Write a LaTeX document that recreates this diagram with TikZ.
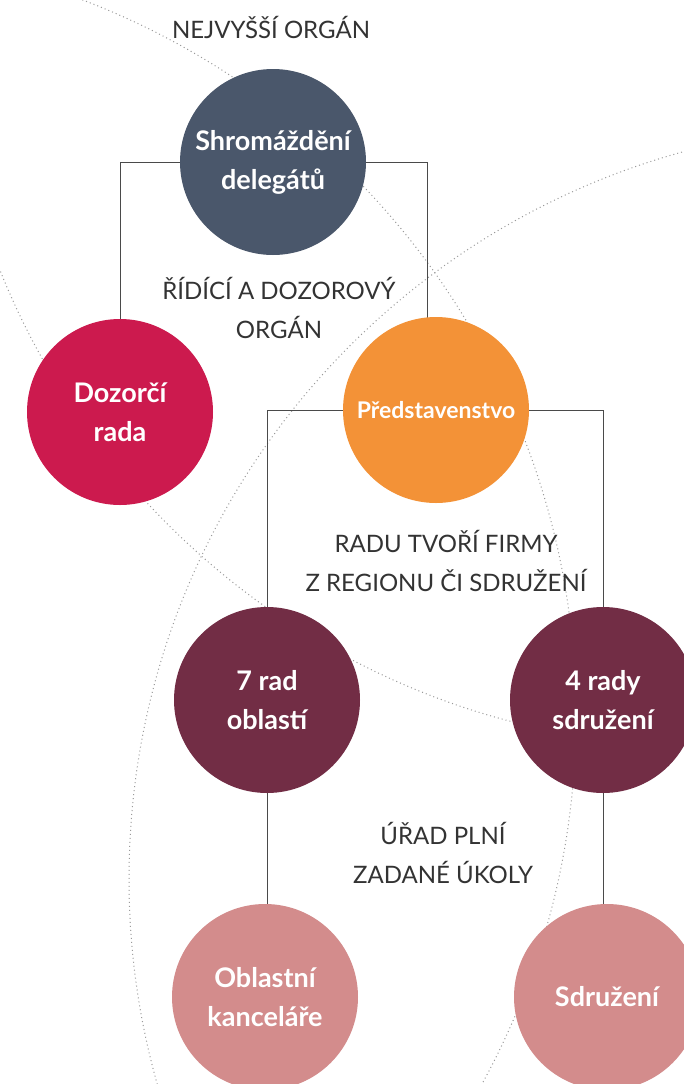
\documentclass[tikz,border=0pt]{standalone}
\usepackage{fontspec}
\setmainfont{Lato}
\usetikzlibrary{backgrounds}
\definecolor{cslate}{HTML}{4A576B}
\definecolor{ccrimson}{HTML}{CC1A4E}
\definecolor{corange}{HTML}{F39237}
\definecolor{cwine}{HTML}{722D45}
\definecolor{crose}{HTML}{D38C8C}
\definecolor{clab}{HTML}{333333}
\definecolor{cline}{HTML}{4A4A4A}
\definecolor{cdot}{HTML}{9A9A9A}
\tikzset{
  bub/.style={circle, minimum size=186pt, inner sep=0pt, text=white, align=center,
    font=\bfseries\fontsize{27}{39}\selectfont},
  lab/.style={text=clab, align=center, font=\fontsize{24}{39}\selectfont},
  conn/.style={draw=cline, line width=1pt},
  dotcirc/.style={draw=cdot, line width=1pt, dash pattern=on 1pt off 3pt}
}
\begin{document}
\begin{tikzpicture}[x=1pt,y=-1pt]
\path[use as bounding box] (0,0) rectangle (684,1084);
\clip (0,0) rectangle (684,1084);

\node[bub, fill=cslate] (shrom) at (273,162) {Shromáždění\\delegátů};
\node[bub, fill=ccrimson] (dozor) at (120,412) {Dozorčí\\rada};
\node[bub, fill=corange, font=\bfseries\fontsize{23}{30}\selectfont] (pred) at (436,410) {Představenstvo};
\node[bub, fill=cwine] (rad7) at (267,700) {7 rad\\oblastí};
\node[bub, fill=cwine] (rady4) at (603,700) {4 rady\\sdružení};
\node[bub, fill=crose] (obl) at (265,997) {Oblastní\\kanceláře};
\node[bub, fill=crose] (sdruz) at (607,997) {Sdružení};

\node[lab] (l1) at (271,27) {NEJVYŠŠÍ ORGÁN};
\node[lab] (l2) at (279,308) {ŘÍDÍCÍ A DOZOROVÝ\\ORGÁN};
\node[lab] (l3) at (446,561) {RADU TVOŘÍ FIRMY\\Z REGIONU ČI SDRUŽENÍ};
\node[lab] (l4) at (443,853) {ÚŘAD PLNÍ\\ZADANÉ ÚKOLY};

\begin{scope}[on background layer]
  \fill[white] (0,0) rectangle (684,1084);
  \draw[dotcirc] (-190,716) circle[radius=766pt];
  \draw[dotcirc] (883,879) circle[radius=754pt];
  \draw[dotcirc] (703,-11) circle[radius=757pt];
  \draw[conn] (shrom.center) -| (dozor.center);
  \draw[conn] (shrom.center) -| ([xshift=-9pt]pred.center);
  \draw[conn] (pred.center) -| (rad7.center);
  \draw[conn] (pred.center) -| (rady4.center);
  \draw[conn] (rad7.center) -- (rad7.center |- obl.center);
  \draw[conn] (rady4.center) -- (rady4.center |- sdruz.center);
\end{scope}
\end{tikzpicture}
\end{document}
